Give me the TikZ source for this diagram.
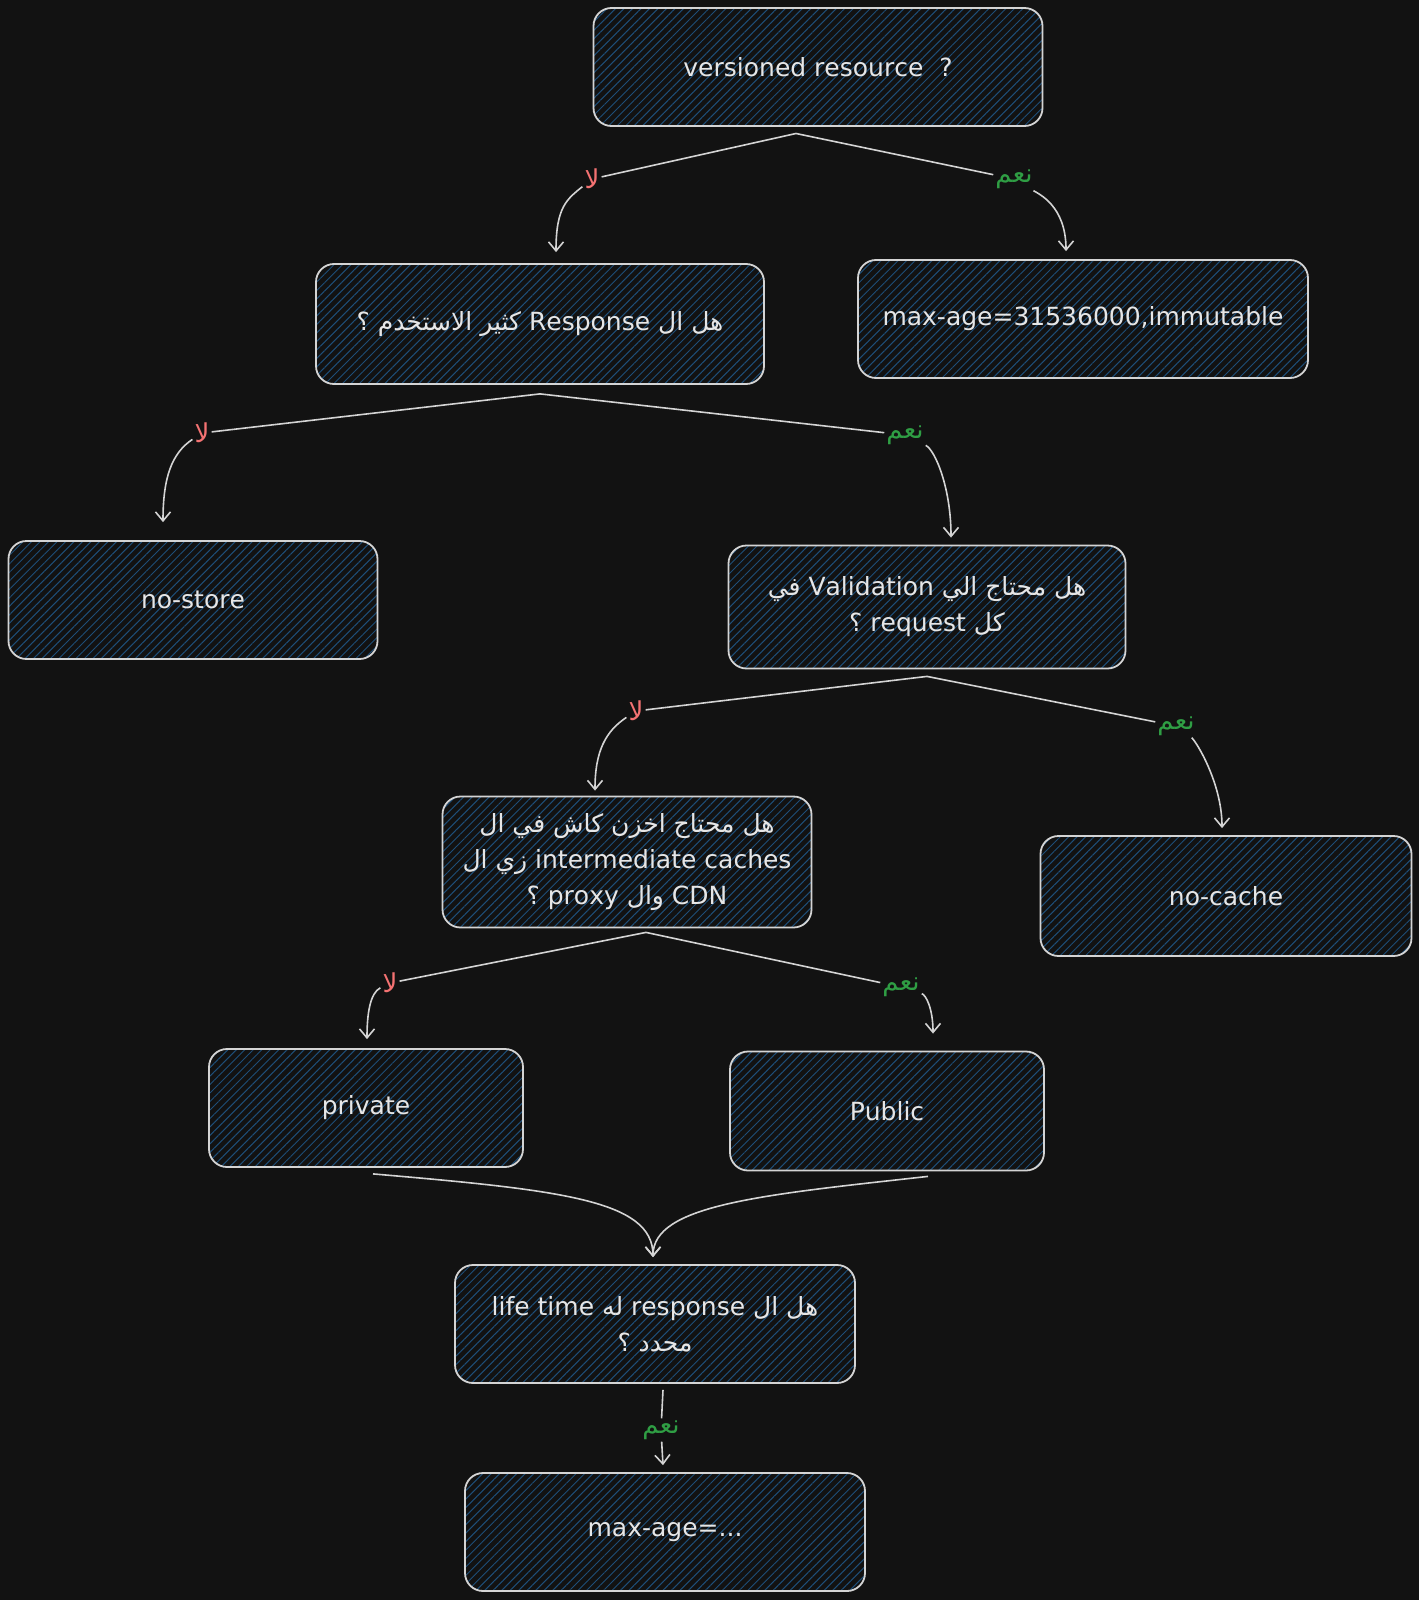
\documentclass[tikz,border=0pt]{standalone}
\usepackage{fontspec}
\setmainfont{DejaVu Sans}
\newfontfamily\arabicfont[Script=Arabic]{DejaVu Sans}
\TeXXeTstate=1
\usetikzlibrary{arrows.meta,patterns.meta}

\definecolor{sfondo}{HTML}{121212}
\definecolor{bordo}{HTML}{D4D4D4}
\definecolor{tratteggio}{HTML}{1E4E78}
\definecolor{testo}{HTML}{E6E6E6}
\definecolor{rosso}{HTML}{F47272}
\definecolor{verde}{HTML}{2F9E44}

\tikzset{
  box/.style={draw=bordo, line width=1.8pt, rounded corners=18pt,
    pattern={Lines[angle=45,distance=6pt,line width=1pt]}, pattern color=tratteggio,
    text=testo, align=center, inner sep=0pt,
    font=\arabicfont\fontsize{25}{36}\selectfont},
  conn/.style={draw=bordo, line width=1.6pt, -{Straight Barb[length=9pt,width=15pt]}},
  labno/.style={text=rosso, inner sep=2pt, font=\arabicfont\fontsize{26}{28}\selectfont},
  labyes/.style={text=verde, inner sep=2pt, font=\arabicfont\fontsize{26}{28}\selectfont}
}

\begin{document}
\begin{tikzpicture}[x=1pt,y=-1pt]
        % Sfondo
        \fill[sfondo] (0,0) rectangle (1419,1600);
        \useasboundingbox (0,0) rectangle (1419,1600);

        % Domande e risposte (dall'alto verso il basso)
        \node[box, minimum width=449pt, minimum height=118pt] (q1) at (818,67) {versioned resource\ \ ?};
        \node[box, minimum width=448pt, minimum height=120pt] (q2) at (540,324)
          {\beginR هل ال Response كثير الاستخدم ؟\endR};
        \node[box, minimum width=450pt, minimum height=118pt] (a1) at (1083,319) {max-age=31536000,immutable};
        \node[box, minimum width=369pt, minimum height=118pt] (a2) at (193,600) {no-store};
        \node[box, minimum width=397pt, minimum height=123pt] (q3) at (927,607)
          {\beginR هل محتاج الي Validation في\endR\\ \beginR كل request ؟\endR};
        \node[box, minimum width=369pt, minimum height=131pt] (q4) at (627,862)
          {\beginR هل محتاج اخزن كاش في ال\endR\\
           \beginR\beginL intermediate caches\endL{} زي ال\endR\\
           \beginR CDN وال proxy ؟\endR};
        \node[box, minimum width=371pt, minimum height=120pt] (a3) at (1226,896) {no-cache};
        \node[box, minimum width=314pt, minimum height=118pt] (a4) at (366,1108) {private};
        \node[box, minimum width=314pt, minimum height=119pt] (a5) at (887,1111) {Public};
        \node[box, minimum width=400pt, minimum height=118pt] (q5) at (655,1324)
          {\beginR هل ال response له \beginL life time\endL\endR\\ \beginR محدد ؟\endR};
        \node[box, minimum width=400pt, minimum height=118pt] (a6) at (665,1532) {max-age=...};

        % Etichette sui rami
        \node[labno] (no1) at (592,179) {لا};
        \node[labyes] (yes1) at (1014,179) {نعم};
        \node[labno] (no2) at (202,433) {لا};
        \node[labyes] (yes2) at (905,435) {نعم};
        \node[labno] (no3) at (636,711) {لا};
        \node[labyes] (yes3) at (1176,726) {نعم};
        \node[labno] (no4) at (390,983) {لا};
        \node[labyes] (yes4) at (901,987) {نعم};
        \node[labyes] (yes5) at (661,1430) {نعم};

        % Frecce
        \draw[conn] ([xshift=-22pt,yshift=-7pt]q1.south) -- (no1)
          .. controls +(-25,20) and +(0,-45) .. ([xshift=16pt,yshift=11pt]q2.north);
        \draw[conn] ([xshift=-22pt,yshift=-7pt]q1.south) -- (yes1)
          .. controls +(25,15) and +(0,-45) .. ([xshift=-17pt,yshift=8pt]a1.north);
        \draw[conn] ([yshift=-9pt]q2.south) -- (no2)
          .. controls +(-30,20) and +(0,-45) .. ([xshift=-30pt,yshift=18pt]a2.north);
        \draw[conn] ([yshift=-9pt]q2.south) -- (yes2)
          .. controls +(30,15) and +(0,-50) .. ([xshift=24pt,yshift=7pt]q3.north);
        \draw[conn] ([yshift=-7pt]q3.south) -- (no3)
          .. controls +(-30,20) and +(0,-40) .. ([xshift=-32pt,yshift=5pt]q4.north);
        \draw[conn] ([yshift=-7pt]q3.south) -- (yes3)
          .. controls +(20,15) and +(0,-45) .. ([xshift=-4pt,yshift=7pt]a3.north);
        \draw[conn] ([xshift=19pt,yshift=-4pt]q4.south) -- (no4)
          .. controls +(-20,10) and +(0,-25) .. ([xshift=1pt,yshift=9pt]a4.north);
        \draw[conn] ([xshift=19pt,yshift=-4pt]q4.south) -- (yes4)
          .. controls +(25,8) and +(0,-25) .. ([xshift=46pt,yshift=17pt]a5.north);
        \draw[conn] ([xshift=7pt,yshift=-6pt]a4.south)
          .. controls (560,1190) and (653,1200) .. ([xshift=-2pt,yshift=7pt]q5.north);
        \draw[conn] ([xshift=41pt,yshift=-5pt]a5.south)
          .. controls (760,1195) and (653,1205) .. ([xshift=-2pt,yshift=7pt]q5.north);
        \draw[conn] ([xshift=8pt,yshift=-6pt]q5.south) -- (yes5) -- ([xshift=-2pt,yshift=7pt]a6.north);

    \end{tikzpicture}
\end{document}
